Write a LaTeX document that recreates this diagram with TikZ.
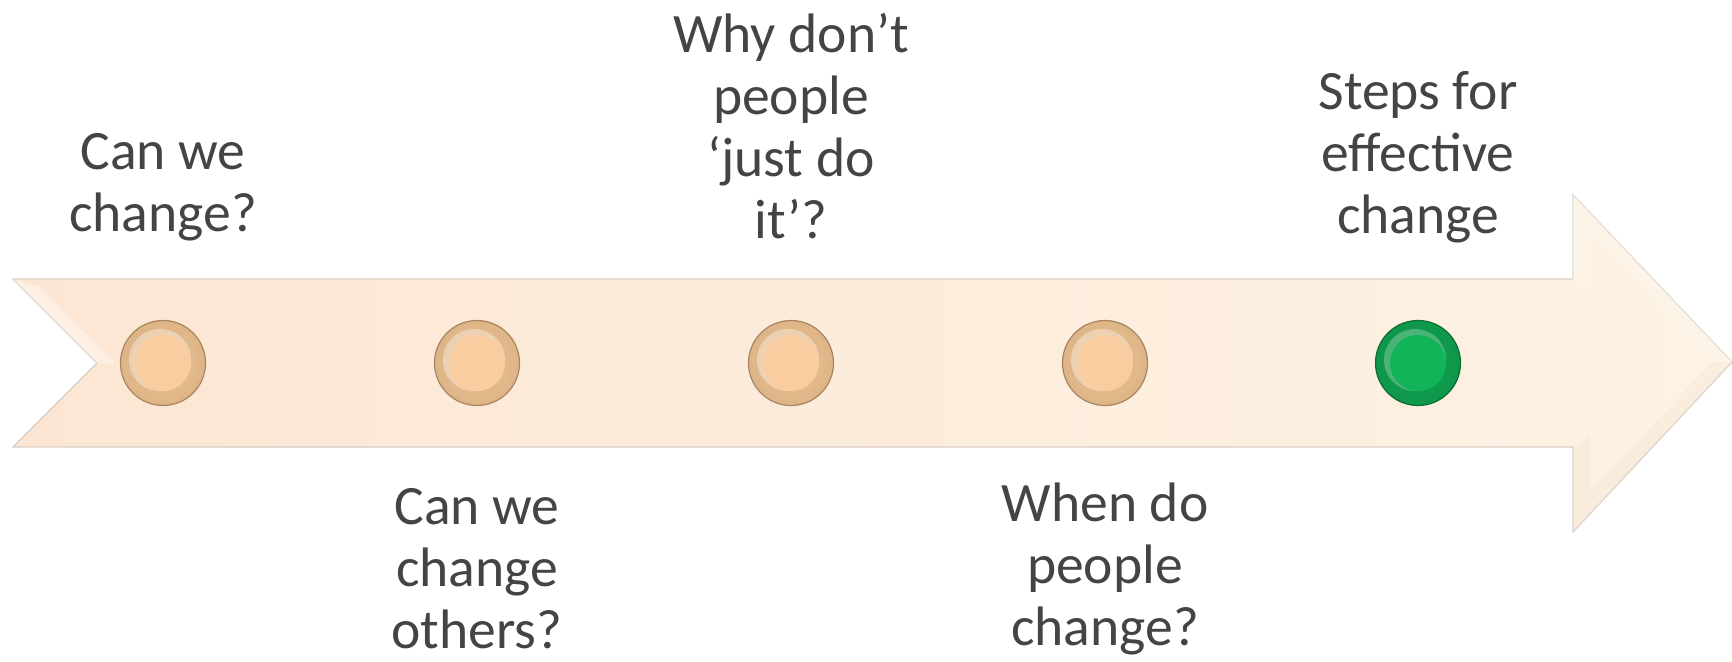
\documentclass[tikz,border=0pt]{standalone}
\usepackage{fontspec}
\setmainfont{Carlito}
\usetikzlibrary{shadings}
\definecolor{txt}{HTML}{444444}
\definecolor{arrL}{HTML}{FCE6D3}
\definecolor{arrR}{HTML}{FDF2E4}
\definecolor{arrEdge}{HTML}{D9CFC6}
\definecolor{bevel}{HTML}{FEF6EC}
\definecolor{peachIn}{HTML}{F9CDA0}
\definecolor{peachRing}{HTML}{EFC494}
\definecolor{peachOut}{HTML}{A88560}
\definecolor{greenIn}{HTML}{12B459}
\definecolor{greenRing}{HTML}{10A452}
\definecolor{greenOut}{HTML}{0A6E34}
\tikzset{
  lbl/.style={font=\fontsize{27.8}{31}\selectfont, text=txt, align=center, inner sep=0pt},
  dotring/.style={circle, minimum size=42.5pt, inner sep=0pt, draw=#1, line width=0.6pt},
}
\begin{document}
\begin{tikzpicture}[x=0.5pt,y=-0.5pt]
\useasboundingbox (0,0) rectangle (1732,662);
% arrow body
\path[left color=arrL, right color=arrR, draw=arrEdge, line width=0.6pt]
  (13,279) -- (1573,279) -- (1573,195) -- (1732,362) -- (1573,532) -- (1573,447)
  -- (13,447) -- (97,363) -- cycle;
% bevel facets
\path[fill=bevel, opacity=0.6] (13,279) -- (97,363) -- (115,363) -- (40,287) -- cycle;
\path[fill=bevel, opacity=0.6] (1573,195) -- (1732,362) -- (1712,362) -- (1590,232) -- (1590,290) -- (1573,279) -- cycle;
\path[fill=arrL!80!brown!60, opacity=0.35] (1573,532) -- (1732,362) -- (1712,362) -- (1590,492) -- (1590,435) -- (1573,447) -- cycle;
% dots
\foreach \n/\x in {d1/163,d2/477,d3/791,d4/1105}{
  \node[dotring=peachOut, inner color=peachRing, outer color=peachRing!75!peachOut] (\n) at (\x,363) {};
  \fill[white, opacity=0.35] ([shift={(-3,-3)}]\n.center) circle (31);
  \fill[peachIn] (\n.center) circle (28);
}
\node[dotring=greenOut, inner color=greenRing, outer color=greenRing!75!greenOut] (d5) at (1418,363) {};
\fill[white, opacity=0.25] ([shift={(-3,-3)}]d5.center) circle (31);
\fill[greenIn] (d5.center) circle (28);
% labels
\node[lbl] (t1) at (163,187) {Can we\\change?};
\node[lbl] (t2) at (477,569) {Can we\\change\\others?};
\node[lbl] (t3) at (791,126) {Why don’t\\people\\‘just do\\it’?};
\node[lbl] (t4) at (1105,569) {When do\\people\\change?};
\node[lbl] (t5) at (1418,157) {Steps for\\effective\\change};
\end{tikzpicture}
\end{document}
